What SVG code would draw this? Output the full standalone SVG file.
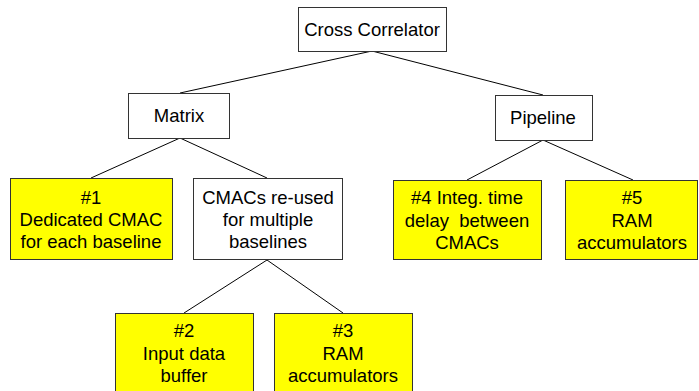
<svg xmlns="http://www.w3.org/2000/svg" width="699" height="391" viewBox="0 0 699 391">
  <style>
    .box { fill: #ffffff; stroke: #333333; stroke-width: 1; }
    .hl { fill: #ffff00; stroke: #333333; stroke-width: 1; }
    .lbl { font-family: "Liberation Sans", Arial, sans-serif; font-size: 18.5px; fill: #000000; text-anchor: middle; }
    .edge { stroke: #000000; stroke-width: 1; fill: none; }
  </style>
  <rect width="699" height="391" fill="#ffffff"/>

  <g id="connectors">
    <line class="edge" x1="372" y1="51" x2="180" y2="93"/>
    <line class="edge" x1="372" y1="51" x2="543" y2="95"/>
    <line class="edge" x1="180" y1="138" x2="91" y2="178"/>
    <line class="edge" x1="180" y1="138" x2="267" y2="178"/>
    <line class="edge" x1="543" y1="140" x2="467" y2="180"/>
    <line class="edge" x1="543" y1="140" x2="633" y2="180"/>
    <line class="edge" x1="267" y1="260" x2="184" y2="313"/>
    <line class="edge" x1="267" y1="260" x2="343" y2="313"/>
  </g>

  <g id="cross-correlator">
    <rect class="box" x="298.5" y="7.5" width="148" height="44"/>
    <text class="lbl" x="372" y="36">Cross Correlator</text>
  </g>

  <g id="matrix">
    <rect class="box" x="128.5" y="93.5" width="101" height="45"/>
    <text class="lbl" x="179" y="121.5">Matrix</text>
  </g>

  <g id="pipeline">
    <rect class="box" x="495.5" y="95.5" width="97" height="45"/>
    <text class="lbl" x="543" y="124">Pipeline</text>
  </g>

  <g id="n1">
    <rect class="hl" x="10.5" y="178.5" width="162" height="81"/>
    <text class="lbl" x="91" y="203.5">#1</text>
    <text class="lbl" x="91" y="226">Dedicated CMAC</text>
    <text class="lbl" x="91" y="248">for each baseline</text>
  </g>

  <g id="cmacs-reused">
    <rect class="box" x="193.5" y="178.5" width="149" height="81"/>
    <text class="lbl" x="268" y="203.5">CMACs re-used</text>
    <text class="lbl" x="268" y="226">for multiple</text>
    <text class="lbl" x="268" y="248">baselines</text>
  </g>

  <g id="n4">
    <rect class="hl" x="393.5" y="180.5" width="148" height="79"/>
    <text class="lbl" x="467" y="204">#4 Integ. time</text>
    <text class="lbl" x="467" y="226.5" xml:space="preserve">delay  between</text>
    <text class="lbl" x="467" y="249">CMACs</text>
  </g>

  <g id="n5">
    <rect class="hl" x="565.5" y="180.5" width="132" height="79"/>
    <text class="lbl" x="632" y="204">#5</text>
    <text class="lbl" x="632" y="226.5">RAM</text>
    <text class="lbl" x="632" y="249">accumulators</text>
  </g>

  <g id="n2">
    <rect class="hl" x="115.5" y="313.5" width="138" height="90"/>
    <text class="lbl" x="184" y="337">#2</text>
    <text class="lbl" x="184" y="359.5">Input data</text>
    <text class="lbl" x="184" y="382">buffer</text>
  </g>

  <g id="n3">
    <rect class="hl" x="274.5" y="313.5" width="138" height="90"/>
    <text class="lbl" x="343" y="337">#3</text>
    <text class="lbl" x="343" y="359.5">RAM</text>
    <text class="lbl" x="343" y="382">accumulators</text>
  </g>
</svg>
